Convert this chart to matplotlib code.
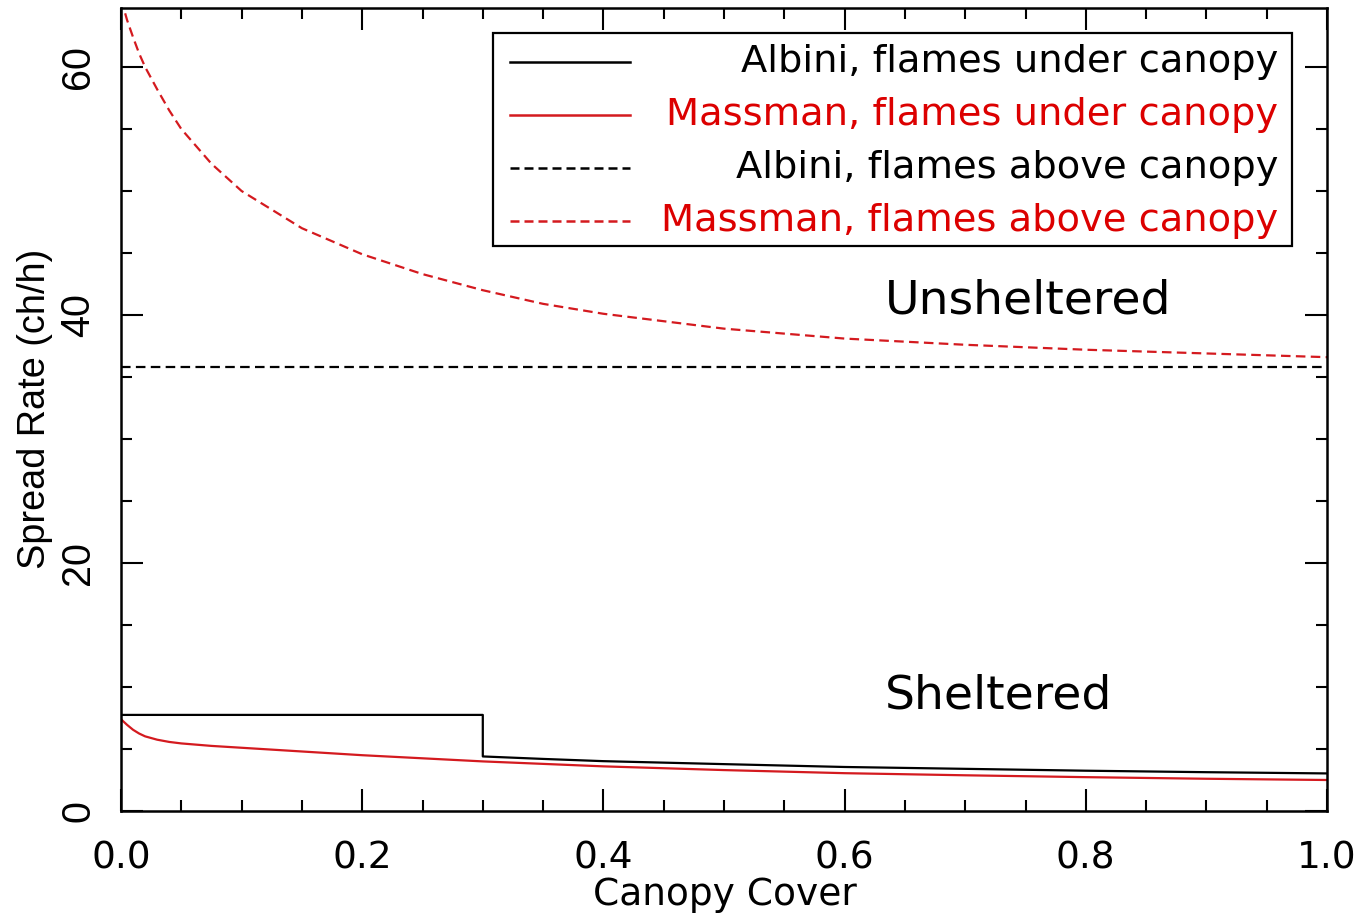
import matplotlib
matplotlib.use("Agg")
import matplotlib.pyplot as plt
from matplotlib.ticker import MultipleLocator
from matplotlib.patches import Rectangle

# ---- data ----
cover_m = [0, 0.005, 0.01, 0.015, 0.02, 0.03, 0.04, 0.05, 0.075, 0.1, 0.15, 0.2, 0.25, 0.3,
           0.35, 0.4, 0.5, 0.6, 0.7, 0.8, 0.9, 1.0]
massman_above = [65.5, 63.8, 62.4, 61.1, 60.0, 58.2, 56.5, 55.0, 52.2, 50.0, 47.0, 44.9, 43.3, 42.0,
                 40.9, 40.1, 38.9, 38.1, 37.6, 37.2, 36.9, 36.6]
massman_under = [7.4, 6.95, 6.55, 6.25, 6.02, 5.75, 5.57, 5.45, 5.25, 5.1, 4.8, 4.5, 4.25, 4.0,
                 3.8, 3.6, 3.3, 3.05, 2.88, 2.73, 2.6, 2.5]
cover_a = [0, 0.3, 0.3, 0.35, 0.4, 0.5, 0.6, 0.7, 0.8, 0.9, 1.0]
albini_under = [7.75, 7.75, 4.4, 4.2, 4.02, 3.78, 3.55, 3.4, 3.25, 3.13, 3.03]
cover_aa = [0, 1.0]
albini_above = [35.8, 35.8]

labels = ["Albini, flames under canopy", "Massman, flames under canopy",
          "Albini, flames above canopy", "Massman, flames above canopy"]
xticks = [0.0, 0.2, 0.4, 0.6, 0.8, 1.0]
xticklabels = ["0.0", "0.2", "0.4", "0.6", "0.8", "1.0"]
yticks = [0, 20, 40, 60]

RED = "#DC0000"
LINE_RED = "#D41A1F"

fig = plt.figure(figsize=(13.64, 9.14), dpi=100)
ax = fig.add_axes([121/1364, 1 - 811/914, 1206/1364, 803/914])

dash = (4.3, 2.4)
l1, = ax.plot(cover_a, albini_under, color="black", lw=1.6)
l2, = ax.plot(cover_m, massman_under, color=LINE_RED, lw=1.6)
l3, = ax.plot(cover_aa, albini_above, color="black", lw=1.6, dashes=dash)
l4, = ax.plot(cover_m, massman_above, color=LINE_RED, lw=1.6, dashes=dash)

ax.set_xlim(0, 1)
ax.set_ylim(0, 64.76)

for s in ax.spines.values():
    s.set_linewidth(1.8)

ax.xaxis.set_minor_locator(MultipleLocator(0.05))
ax.yaxis.set_minor_locator(MultipleLocator(5))
ax.set_xticks(xticks)
ax.set_xticklabels(xticklabels)
ax.set_yticks(yticks)
ax.set_yticklabels([str(v) for v in yticks], rotation=90, va="center",
                   family="Liberation Sans", fontsize=28.5)
ax.tick_params(which="both", direction="in", top=True, right=True, width=1.5)
ax.tick_params(which="major", length=16)
ax.tick_params(which="minor", length=8)
ax.tick_params(axis="x", which="major", labelsize=27, pad=21)
ax.tick_params(axis="y", which="major", pad=17)

ax.set_xlabel("Canopy Cover", fontsize=27, va="center")
ax.xaxis.set_label_coords(0.5008, -0.105)
ax.set_ylabel("Spread Rate (ch/h)", fontsize=27.3, family="Liberation Sans", va="center")
ax.yaxis.set_label_coords(-0.0713, 0.501)

ax.text(0.6335, 41.15, "Unsheltered", fontsize=34, ha="left", va="center")
ax.text(0.6335, 9.25, "Sheltered", fontsize=34, ha="left", va="center")

# legend (R style: handles left, labels right-aligned)
ax.add_patch(Rectangle((0.3085, 0.7036), 0.971 - 0.3085, 0.9689 - 0.7036,
                       transform=ax.transAxes, fill=True, facecolor="white",
                       edgecolor="black", lw=1.6, zorder=5))
rows_y = [0.9328, 0.8667, 0.8007, 0.7347]
handles = [l1, l2, l3, l4]
text_colors = ["black", RED, "black", RED]
for h, lab, yy, tc in zip(handles, labels, rows_y, text_colors):
    kw = dict(color=h.get_color(), lw=1.8, transform=ax.transAxes, zorder=6)
    if h in (l3, l4):
        kw["dashes"] = (3.6, 2.0)
    ax.plot([0.3226, 0.4221], [yy, yy], **kw)
    ax.text(0.9594, yy, lab, transform=ax.transAxes, ha="right", va="center",
            fontsize=27.6, color=tc, zorder=6)

fig.savefig("out.png", dpi=100)
